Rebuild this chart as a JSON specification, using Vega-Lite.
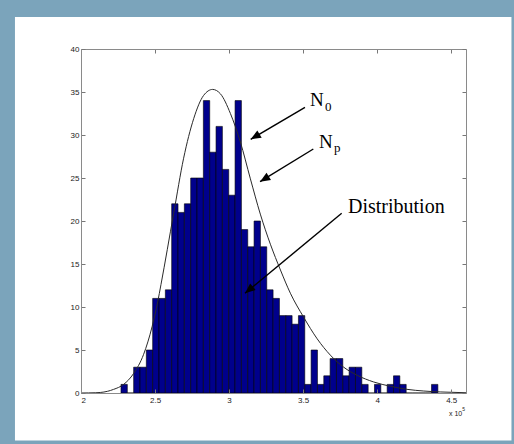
{
  "$schema": "https://vega.github.io/schema/vega-lite/v6.json",
  "autosize": {"type": "none"},
  "padding": {"left": 81, "top": 49, "right": 48, "bottom": 51},
  "width": 385,
  "height": 344,
  "background": "#7ba4bb",
  "config": {
    "view": {"stroke": null},
    "axis": {
      "grid": false, "title": null,
      "tickSize": -4, "tickColor": "#777777", "tickWidth": 1,
      "domainColor": "#8a8a8a", "domainWidth": 1,
      "labelFont": "Liberation Sans", "labelFontSize": 8, "labelColor": "#222222"
    }
  },
  "datasets": {
    "frame": [{"x1": 1.554, "x2": 4.907, "y1": -5.52, "y2": 43.72}],
    "hist": [
      {"lo": 2.2700, "hi": 2.3128, "n": 1},
      {"lo": 2.3128, "hi": 2.3556, "n": 0},
      {"lo": 2.3556, "hi": 2.3984, "n": 3},
      {"lo": 2.3984, "hi": 2.4412, "n": 3},
      {"lo": 2.4412, "hi": 2.4840, "n": 5},
      {"lo": 2.4840, "hi": 2.5268, "n": 11},
      {"lo": 2.5268, "hi": 2.5696, "n": 11},
      {"lo": 2.5696, "hi": 2.6124, "n": 12},
      {"lo": 2.6124, "hi": 2.6552, "n": 22},
      {"lo": 2.6552, "hi": 2.6980, "n": 21},
      {"lo": 2.6980, "hi": 2.7408, "n": 22},
      {"lo": 2.7408, "hi": 2.7836, "n": 25},
      {"lo": 2.7836, "hi": 2.8264, "n": 25},
      {"lo": 2.8264, "hi": 2.8692, "n": 34},
      {"lo": 2.8692, "hi": 2.9120, "n": 28},
      {"lo": 2.9120, "hi": 2.9548, "n": 31},
      {"lo": 2.9548, "hi": 2.9976, "n": 26},
      {"lo": 2.9976, "hi": 3.0404, "n": 23},
      {"lo": 3.0404, "hi": 3.0832, "n": 34},
      {"lo": 3.0832, "hi": 3.1260, "n": 19},
      {"lo": 3.1260, "hi": 3.1688, "n": 17},
      {"lo": 3.1688, "hi": 3.2116, "n": 20},
      {"lo": 3.2116, "hi": 3.2544, "n": 17},
      {"lo": 3.2544, "hi": 3.2972, "n": 12},
      {"lo": 3.2972, "hi": 3.3400, "n": 11},
      {"lo": 3.3400, "hi": 3.3828, "n": 9},
      {"lo": 3.3828, "hi": 3.4256, "n": 9},
      {"lo": 3.4256, "hi": 3.4684, "n": 8},
      {"lo": 3.4684, "hi": 3.5112, "n": 9},
      {"lo": 3.5112, "hi": 3.5540, "n": 1},
      {"lo": 3.5540, "hi": 3.5968, "n": 5},
      {"lo": 3.5968, "hi": 3.6396, "n": 1},
      {"lo": 3.6396, "hi": 3.6824, "n": 2},
      {"lo": 3.6824, "hi": 3.7252, "n": 4},
      {"lo": 3.7252, "hi": 3.7680, "n": 4},
      {"lo": 3.7680, "hi": 3.8108, "n": 2},
      {"lo": 3.8108, "hi": 3.8536, "n": 3},
      {"lo": 3.8536, "hi": 3.8964, "n": 3},
      {"lo": 3.8964, "hi": 3.9392, "n": 1},
      {"lo": 3.9392, "hi": 3.9820, "n": 0},
      {"lo": 3.9820, "hi": 4.0248, "n": 1},
      {"lo": 4.0248, "hi": 4.0676, "n": 0},
      {"lo": 4.0676, "hi": 4.1104, "n": 1},
      {"lo": 4.1104, "hi": 4.1532, "n": 2},
      {"lo": 4.1532, "hi": 4.1960, "n": 1},
      {"lo": 4.1960, "hi": 4.2388, "n": 0},
      {"lo": 4.2388, "hi": 4.2816, "n": 0},
      {"lo": 4.2816, "hi": 4.3244, "n": 0},
      {"lo": 4.3244, "hi": 4.3672, "n": 0},
      {"lo": 4.3672, "hi": 4.4100, "n": 1}
    ],
    "curve": [
      {"x": 2.0, "y": 0.0}, {"x": 2.05, "y": 0.01}, {"x": 2.1, "y": 0.03},
      {"x": 2.13, "y": 0.06}, {"x": 2.18, "y": 0.2}, {"x": 2.22, "y": 0.42},
      {"x": 2.288, "y": 1.0}, {"x": 2.355, "y": 2.26}, {"x": 2.423, "y": 4.5},
      {"x": 2.48, "y": 7.7}, {"x": 2.518, "y": 10.6}, {"x": 2.54, "y": 12.6},
      {"x": 2.626, "y": 20.9}, {"x": 2.693, "y": 27.3}, {"x": 2.761, "y": 31.9},
      {"x": 2.828, "y": 34.6}, {"x": 2.889, "y": 35.3}, {"x": 2.941, "y": 34.8},
      {"x": 3.009, "y": 32.5}, {"x": 3.076, "y": 29.2}, {"x": 3.144, "y": 24.9},
      {"x": 3.211, "y": 20.8}, {"x": 3.279, "y": 17.3}, {"x": 3.347, "y": 14.3},
      {"x": 3.414, "y": 11.6}, {"x": 3.504, "y": 8.8}, {"x": 3.595, "y": 6.3},
      {"x": 3.684, "y": 4.4}, {"x": 3.774, "y": 3.0}, {"x": 3.865, "y": 2.06},
      {"x": 3.977, "y": 1.28}, {"x": 4.09, "y": 0.78}, {"x": 4.2, "y": 0.43},
      {"x": 4.315, "y": 0.23}, {"x": 4.43, "y": 0.12}, {"x": 4.6, "y": 0.03}
    ],
    "arrows": [
      {"arrow": "N0", "x": 3.5127, "y": 33.22, "tx": 3.146, "ty": 29.50},
      {"arrow": "Np", "x": 3.569, "y": 28.37, "tx": 3.209, "ty": 24.57},
      {"arrow": "Distribution", "x": 3.7605, "y": 20.90, "tx": 3.1075, "ty": 11.59}
    ],
    "labels": [
      {"role": "main", "text": "N", "x": 3.5465, "y": 33.37},
      {"role": "sub", "text": "0", "x": 3.648, "y": 32.79},
      {"role": "main", "text": "N", "x": 3.607, "y": 28.45},
      {"role": "sub", "text": "p", "x": 3.7085, "y": 28.02},
      {"role": "big", "text": "Distribution", "x": 3.803, "y": 20.93},
      {"role": "exp", "text": "x 10", "x": 4.485, "y": -2.67},
      {"role": "sup", "text": "5", "x": 4.575, "y": -2.09}
    ]
  },
  "resolve": {"axis": {"x": "independent", "y": "independent"}},
  "layer": [
    {
      "data": {"name": "frame"},
      "mark": {"type": "rect", "color": "white"},
      "encoding": {
        "x": {"field": "x1", "type": "quantitative", "scale": {"domain": [2, 4.6], "nice": false, "zero": false}, "axis": null},
        "x2": {"field": "x2"},
        "y": {"field": "y1", "type": "quantitative", "scale": {"domain": [0, 40], "nice": false, "zero": false}, "axis": null},
        "y2": {"field": "y2"}
      }
    },
    {
      "data": {"name": "hist"},
      "mark": {"type": "rect", "fill": "#00008c", "stroke": "#000000", "strokeWidth": 0.6},
      "encoding": {
        "x": {"field": "lo", "type": "quantitative", "scale": {"domain": [2, 4.6], "nice": false, "zero": false},
              "axis": {"orient": "bottom", "zindex": 2, "values": [2, 2.5, 3, 3.5, 4, 4.5], "format": "~g", "labelPadding": 7}},
        "x2": {"field": "hi"},
        "y": {"field": "n", "type": "quantitative", "scale": {"domain": [0, 40], "nice": false, "zero": false},
              "axis": {"orient": "left", "zindex": 2, "values": [0, 5, 10, 15, 20, 25, 30, 35, 40], "format": "d", "labelPadding": 6}},
        "y2": {"datum": 0}
      }
    },
    {
      "data": {"name": "curve"},
      "mark": {"type": "line", "color": "#2a2a2a", "strokeWidth": 1, "interpolate": "monotone"},
      "encoding": {
        "x": {"field": "x", "type": "quantitative", "scale": {"domain": [2, 4.6], "nice": false, "zero": false},
              "axis": {"orient": "top", "zindex": 2, "values": [2, 2.5, 3, 3.5, 4, 4.5], "labels": false}},
        "y": {"field": "y", "type": "quantitative", "scale": {"domain": [0, 40], "nice": false, "zero": false},
              "axis": {"orient": "right", "zindex": 2, "values": [0, 5, 10, 15, 20, 25, 30, 35, 40], "labels": false}}
      }
    },
    {
      "data": {"name": "arrows"},
      "mark": {"type": "rule", "color": "black", "strokeWidth": 1.4},
      "encoding": {
        "x": {"field": "x", "type": "quantitative", "scale": {"domain": [2, 4.6], "nice": false, "zero": false}, "axis": null},
        "y": {"field": "y", "type": "quantitative", "scale": {"domain": [0, 40], "nice": false, "zero": false}, "axis": null},
        "x2": {"field": "tx"},
        "y2": {"field": "ty"}
      }
    },
    {
      "data": {"name": "arrows"},
      "transform": [{"filter": "datum.arrow == 'N0'"}],
      "mark": {"type": "point", "shape": "M0,0L-0.42,1L0.42,1Z", "filled": true, "color": "black", "opacity": 1, "size": 420, "angle": 239.5},
      "encoding": {
        "x": {"field": "tx", "type": "quantitative", "scale": {"domain": [2, 4.6], "nice": false, "zero": false}, "axis": null},
        "y": {"field": "ty", "type": "quantitative", "scale": {"domain": [0, 40], "nice": false, "zero": false}, "axis": null}
      }
    },
    {
      "data": {"name": "arrows"},
      "transform": [{"filter": "datum.arrow == 'Np'"}],
      "mark": {"type": "point", "shape": "M0,0L-0.42,1L0.42,1Z", "filled": true, "color": "black", "opacity": 1, "size": 420, "angle": 238.5},
      "encoding": {
        "x": {"field": "tx", "type": "quantitative", "scale": {"domain": [2, 4.6], "nice": false, "zero": false}, "axis": null},
        "y": {"field": "ty", "type": "quantitative", "scale": {"domain": [0, 40], "nice": false, "zero": false}, "axis": null}
      }
    },
    {
      "data": {"name": "arrows"},
      "transform": [{"filter": "datum.arrow == 'Distribution'"}],
      "mark": {"type": "point", "shape": "M0,0L-0.42,1L0.42,1Z", "filled": true, "color": "black", "opacity": 1, "size": 420, "angle": 230.4},
      "encoding": {
        "x": {"field": "tx", "type": "quantitative", "scale": {"domain": [2, 4.6], "nice": false, "zero": false}, "axis": null},
        "y": {"field": "ty", "type": "quantitative", "scale": {"domain": [0, 40], "nice": false, "zero": false}, "axis": null}
      }
    },
    {
      "data": {"name": "labels"},
      "transform": [{"filter": "datum.role == 'main'"}],
      "mark": {"type": "text", "font": "Liberation Serif", "fontSize": 19, "align": "left", "baseline": "alphabetic", "color": "black"},
      "encoding": {
        "x": {"field": "x", "type": "quantitative", "scale": {"domain": [2, 4.6], "nice": false, "zero": false}, "axis": null},
        "y": {"field": "y", "type": "quantitative", "scale": {"domain": [0, 40], "nice": false, "zero": false}, "axis": null},
        "text": {"field": "text"}
      }
    },
    {
      "data": {"name": "labels"},
      "transform": [{"filter": "datum.role == 'sub'"}],
      "mark": {"type": "text", "font": "Liberation Serif", "fontSize": 13, "align": "left", "baseline": "alphabetic", "color": "black"},
      "encoding": {
        "x": {"field": "x", "type": "quantitative", "scale": {"domain": [2, 4.6], "nice": false, "zero": false}, "axis": null},
        "y": {"field": "y", "type": "quantitative", "scale": {"domain": [0, 40], "nice": false, "zero": false}, "axis": null},
        "text": {"field": "text"}
      }
    },
    {
      "data": {"name": "labels"},
      "transform": [{"filter": "datum.role == 'big'"}],
      "mark": {"type": "text", "font": "Liberation Serif", "fontSize": 20, "align": "left", "baseline": "alphabetic", "color": "black"},
      "encoding": {
        "x": {"field": "x", "type": "quantitative", "scale": {"domain": [2, 4.6], "nice": false, "zero": false}, "axis": null},
        "y": {"field": "y", "type": "quantitative", "scale": {"domain": [0, 40], "nice": false, "zero": false}, "axis": null},
        "text": {"field": "text"}
      }
    },
    {
      "data": {"name": "labels"},
      "transform": [{"filter": "datum.role == 'exp'"}],
      "mark": {"type": "text", "font": "Liberation Sans", "fontSize": 7, "align": "left", "baseline": "alphabetic", "color": "#222222"},
      "encoding": {
        "x": {"field": "x", "type": "quantitative", "scale": {"domain": [2, 4.6], "nice": false, "zero": false}, "axis": null},
        "y": {"field": "y", "type": "quantitative", "scale": {"domain": [0, 40], "nice": false, "zero": false}, "axis": null},
        "text": {"field": "text"}
      }
    },
    {
      "data": {"name": "labels"},
      "transform": [{"filter": "datum.role == 'sup'"}],
      "mark": {"type": "text", "font": "Liberation Sans", "fontSize": 5, "align": "left", "baseline": "alphabetic", "color": "#222222"},
      "encoding": {
        "x": {"field": "x", "type": "quantitative", "scale": {"domain": [2, 4.6], "nice": false, "zero": false}, "axis": null},
        "y": {"field": "y", "type": "quantitative", "scale": {"domain": [0, 40], "nice": false, "zero": false}, "axis": null},
        "text": {"field": "text"}
      }
    }
  ]
}
